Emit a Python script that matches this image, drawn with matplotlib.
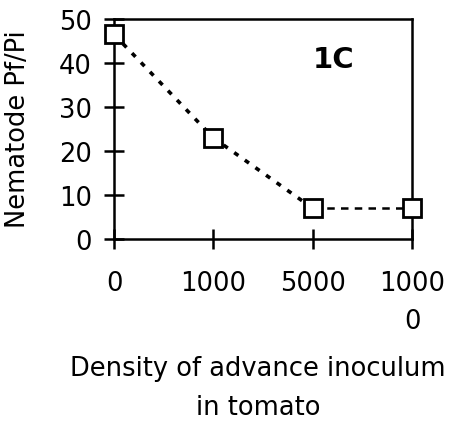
import matplotlib.pyplot as plt

# values
categories = ["0", "1000", "5000", "1000\n0"]
pf_pi = [46.5, 23, 7, 7]
y_ticks = [0, 10, 20, 30, 40, 50]

plt.rcParams['font.family'] = ['DejaVu Sans']

fig = plt.figure(figsize=(4.54, 4.27), dpi=100)
ax = fig.add_axes([114 / 454, 1 - 240 / 427, 298 / 454, 220 / 427])

x = list(range(len(categories)))
ax.plot(x[:3], pf_pi[:3], color='black', lw=2.6, ls=(0, (1.4, 2.2)), zorder=2)
ax.plot(x[2:], pf_pi[2:], color='black', lw=1.8, ls=(0, (3, 2.5)), zorder=2)
ax.plot(x, pf_pi, ls='none', marker='s', markersize=13, markerfacecolor='white',
        markeredgecolor='black', markeredgewidth=2, zorder=3, clip_on=False)

ax.set_xlim(0, 3)
ax.set_ylim(0, 50)
ax.set_xticks(x)
ax.set_xticklabels(categories, fontsize=18.5, linespacing=1.6)
ax.set_yticks(y_ticks)
ax.tick_params(axis='both', direction='inout', length=14, width=1.8, labelsize=18.5)
ax.tick_params(axis='x', pad=15.5)
ax.tick_params(axis='y', pad=9)
for s in ax.spines.values():
    s.set_linewidth(1.8)

ax.text(0.737, 0.82, "1C", transform=ax.transAxes, fontsize=21, fontweight='bold',
        ha='center', va='center')

ax.set_ylabel("Nematode Pf/Pi", fontsize=18.5)
ax.yaxis.set_label_coords(-0.279, 0.505)
ax.set_xlabel("Density of advance inoculum\nin tomato", fontsize=18.5,
              linespacing=1.65)
ax.xaxis.set_label_coords(0.483, -0.527)

fig.savefig("out.png", dpi=100)
